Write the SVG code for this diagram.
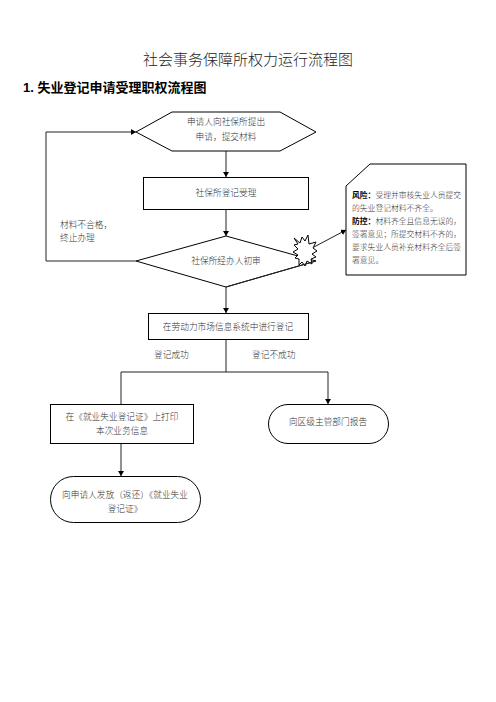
<svg xmlns="http://www.w3.org/2000/svg" width="496" height="702" viewBox="0 0 496 702">
<style>
text{font-family:"Noto Sans CJK SC","Liberation Sans",sans-serif;fill:#333;font-size:8.7px;font-weight:300}
.m{text-anchor:middle}
.s{fill:#fff;stroke:#000;stroke-width:1}
.l{fill:none;stroke:#222;stroke-width:1}
.c{font-size:7.8px}
.b{font-weight:700;fill:#000}
</style>
<defs><marker id="a" markerUnits="userSpaceOnUse" markerWidth="6" markerHeight="6" refX="5" refY="3" orient="auto"><path d="M0 0L5 3L0 6Z" fill="#000"/></marker></defs>
<rect width="496" height="702" fill="#fff"/>
<text class="m" x="248" y="65" style="font-size:15px;fill:#222">社会事务保障所权力运行流程图</text>
<text x="23" y="92" style="font-size:13px;font-weight:700;fill:#000;font-family:'Liberation Sans','Noto Sans CJK SC',sans-serif">1. 失业登记申请受理职权流程图</text>
<g id="connectors">
<path class="l" d="M226 151V177" marker-end="url(#a)"/>
<path class="l" d="M226 209V236" marker-end="url(#a)"/>
<path class="l" d="M226 287V313" marker-end="url(#a)"/>
<path class="l" d="M136 261H46V132H136" marker-end="url(#a)"/>
<path class="l" d="M226 339V372"/>
<path class="l" d="M121 404V372H328V404" marker-end="url(#a)"/>
<path class="l" d="M121 443V476" marker-end="url(#a)"/>
<path class="l" d="M314 247L346 230" marker-end="url(#a)"/>
</g>
<g id="n1"><path class="s" d="M136 132L172 112H280L316 132L280 151H172Z"/><text class="m" x="226" y="125">申请人向社保所提出</text><text class="m" x="226" y="140">申请，提交材料</text></g>
<g id="n2"><rect class="s" x="143.500" y="177.500" width="165" height="32"/><text class="m" x="226" y="196">社保所登记受理</text></g>
<g id="n3"><path class="s" d="M136 261L226 236L316 261L226 287Z"/><text class="m" x="226" y="264">社保所经办人初审</text></g>
<g id="burst"><path class="s" d="M294 238L300 243L302 237L305 241L308 235L309 244L316 242L313 248L317 251L312 254L316 257L311 259L312 264L307 261L305 266L302 262L299 265L299 259L295 258L298 255L293 252L298 249L294 245L298 244Z"/></g>
<path class="l" d="M226 287L316 261"/>
<g id="n4"><path class="s" stroke="#444" d="M346 186L370 164H466V275H346Z"/>
<text class="c" x="352" y="198"><tspan class="b">风险：</tspan>受理并审核失业人员提交</text>
<text class="c" x="352" y="211">的失业登记材料不齐全。</text>
<text class="c" x="352" y="224"><tspan class="b">防控：</tspan>材料齐全且信息无误的，</text>
<text class="c" x="352" y="237">签署意见；所提交材料不齐的，</text>
<text class="c" x="352" y="250">要求失业人员补充材料齐全后签</text>
<text class="c" x="352" y="263">署意见。</text></g>
<text x="60" y="228">材料不合格，</text>
<text x="60" y="241">终止办理</text>
<g id="n5"><rect class="s" x="148.500" y="313.500" width="160" height="26"/><text class="m" x="228" y="330">在劳动力市场信息系统中进行登记</text></g>
<text x="154" y="358">登记成功</text>
<text x="252" y="358">登记不成功</text>
<g id="n6"><rect class="s" x="50.500" y="404.500" width="143" height="39"/><text class="m" x="122" y="420">在《就业失业登记证》上打印</text><text class="m" x="122" y="434">本次业务信息</text></g>
<g id="n7"><rect class="s" x="268.500" y="404.500" width="120" height="39" rx="19.500"/><text class="m" x="328" y="425">向区级主管部门报告</text></g>
<g id="n8"><rect class="s" x="50.500" y="476.500" width="150" height="46" rx="23"/><text class="m" x="125" y="498">向申请人发放（返还）《就业失业</text><text class="m" x="125" y="512">登记证》</text></g>
</svg>
